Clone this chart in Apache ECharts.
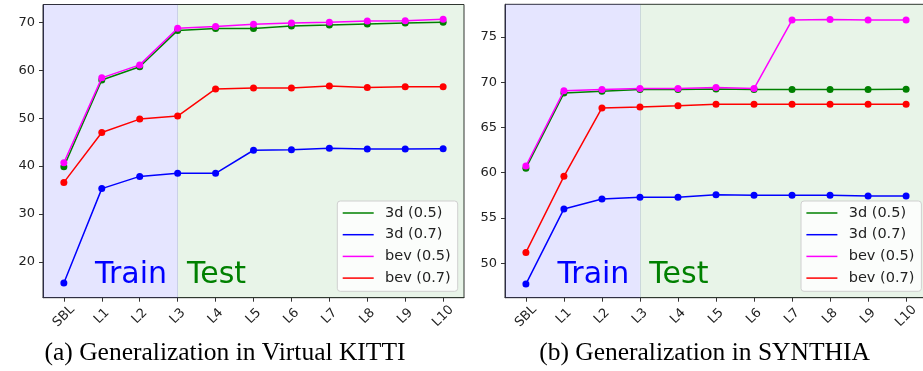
<!DOCTYPE html>
<html>
<head>
<meta charset="utf-8">
<script src="https://cdn.jsdelivr.net/npm/echarts@6/dist/echarts.min.js"></script>
<style>
html,body{margin:0;padding:0;background:#fff;}
#chart{width:923px;height:371px;}
</style>
</head>
<body>
<div id="chart"></div>
<script>
// ---------- data ----------
const categories = ['SBL','L1','L2','L3','L4','L5','L6','L7','L8','L9','L10'];
const seriesNames = ['3d (0.5)','3d (0.7)','bev (0.5)','bev (0.7)'];
const seriesColors = ['#008000','#0000ff','#ff00ff','#ff0000'];

// (a) Virtual KITTI
const kitti3d05  = [39.85, 57.95, 60.7, 68.3, 68.7, 68.7, 69.2, 69.4, 69.65, 69.85, 70.0];
const kitti3d07  = [15.6, 35.3, 37.85, 38.5, 38.5, 43.3, 43.4, 43.7, 43.55, 43.55, 43.6];
const kittiBev05 = [40.7, 58.4, 61.1, 68.75, 69.1, 69.6, 69.85, 70.0, 70.27, 70.3, 70.6];
const kittiBev07 = [36.6, 47.0, 49.8, 50.44, 56.1, 56.3, 56.3, 56.7, 56.4, 56.55, 56.55];
const kittiYTicks = [20, 30, 40, 50, 60, 70];

// (b) SYNTHIA
const synth3d05  = [60.5, 68.8, 69.0, 69.2, 69.2, 69.26, 69.2, 69.18, 69.2, 69.2, 69.22];
const synth3d07  = [47.7, 56.0, 57.1, 57.3, 57.3, 57.57, 57.5, 57.5, 57.5, 57.42, 57.42];
const synthBev05 = [60.74, 69.04, 69.2, 69.3, 69.3, 69.4, 69.3, 76.86, 76.93, 76.86, 76.86];
const synthBev07 = [51.2, 59.6, 67.16, 67.27, 67.4, 67.56, 67.56, 67.56, 67.56, 67.56, 67.56];
const synthYTicks = [50, 55, 60, 65, 70, 75];

const trainLabel = 'Train';
const testLabel = 'Test';
const lastTrainCategory = 'L3';
const captions = ['(a) Generalization in Virtual KITTI', '(b) Generalization in SYNTHIA'];

// ---------- build ----------
const xIdx = categories.map((_, i) => i);
const splitIdx = categories.indexOf(lastTrainCategory);
const X_MIN = -0.55, X_MAX = categories.length - 1 + 0.55;
const FONT = 'DejaVu Sans';
const TXT = '#222';

const panels = [
  { data: [kitti3d05, kitti3d07, kittiBev05, kittiBev07], yMin: 12.55, yMax: 73.7, ticks: kittiYTicks, textY: 17.24,
    grid: { left: 43, top: 4.5, width: 421, height: 293.2 }, legend: { left: 337.3, top: 201 }, capX: 225 },
  { data: [synth3d05, synth3d07, synthBev05, synthBev07], yMin: 46.2, yMax: 78.6, ticks: synthYTicks, textY: 48.7,
    grid: { left: 505, top: 4.3, width: 422, height: 293.4 }, legend: { left: 801, top: 201 }, capX: 704.5 }
];

const grids = [], xAxes = [], yAxes = [], series = [], legends = [], graphics = [];

panels.forEach((p, gi) => {
  grids.push(Object.assign({ show: true, borderColor: '#333', borderWidth: 1, backgroundColor: 'transparent',
    containLabel: false, outerBoundsMode: 'none' }, p.grid));
  xAxes.push({
    type: 'value', gridIndex: gi, min: X_MIN, max: X_MAX,
    axisLine: { show: true, onZero: false, lineStyle: { color: '#333', width: 1 } },
    axisTick: { show: true, customValues: xIdx, length: 4, lineStyle: { color: '#333' } },
    axisLabel: { show: true, customValues: xIdx, rotate: 45, align: 'center', verticalAlign: 'middle', margin: 18.5,
      formatter: v => categories[Math.round(v)], fontFamily: FONT, fontSize: 13, color: TXT },
    splitLine: { show: false }
  });
  yAxes.push({
    type: 'value', gridIndex: gi, min: p.yMin, max: p.yMax,
    axisLine: { show: true, onZero: false, lineStyle: { color: '#333', width: 1 } },
    axisTick: { show: true, customValues: p.ticks, length: 4, lineStyle: { color: '#333' } },
    axisLabel: { show: true, customValues: p.ticks, margin: 8, fontFamily: FONT, fontSize: 13, color: TXT },
    splitLine: { show: false }
  });
  p.data.forEach((vals, si) => {
    const s = {
      name: seriesNames[si], type: 'line', xAxisIndex: gi, yAxisIndex: gi,
      data: vals.map((v, i) => [xIdx[i], v]),
      symbol: 'circle', symbolSize: 7, showSymbol: true,
      lineStyle: { color: seriesColors[si], width: 1.5 },
      itemStyle: { color: seriesColors[si] },
      emphasis: { disabled: true }, silent: true, z: 2 + si * 0.01
    };
    if (si === 0) {
      s.markArea = {
        silent: true, z: 1,
        data: [
          [{ xAxis: X_MIN, itemStyle: { color: 'rgba(0,0,255,0.1)' } }, { xAxis: splitIdx }],
          [{ xAxis: splitIdx, itemStyle: { color: 'rgba(0,128,0,0.09)' } }, { xAxis: X_MAX }]
        ]
      };
      s.markLine = {
        silent: true, symbol: ['none', 'none'], z: 1, animation: false,
        label: { show: false },
        lineStyle: { color: 'rgba(70,90,160,0.18)', type: 'solid', width: 1 },
        data: [{ xAxis: splitIdx }]
      };
      s.markPoint = {
        silent: true, symbol: 'circle', symbolSize: 0, z: 1,
        itemStyle: { color: 'transparent' },
        data: [
          { coord: [splitIdx, p.textY], label: { show: true, formatter: trainLabel, position: 'left', distance: 10.6,
              fontFamily: FONT, fontSize: 30, color: '#0000ff' } },
          { coord: [splitIdx, p.textY], label: { show: true, formatter: testLabel, position: 'right', distance: 9.4,
              fontFamily: FONT, fontSize: 30, color: '#008000' } }
        ]
      };
    }
    series.push(s);
  });
  legends.push({
    data: seriesNames, orient: 'vertical', left: p.legend.left, top: p.legend.top,
    icon: 'rect', itemWidth: 31, itemHeight: 1.5, itemGap: 6.7,
    padding: [4.5, 7, 5.7, 5.4], backgroundColor: 'rgba(255,255,255,0.8)',
    borderColor: '#d0d0d0', borderWidth: 1, borderRadius: 3, selectedMode: false,
    textStyle: { fontFamily: FONT, fontSize: 14.5, color: TXT, padding: [0, 0, 0, 6.3] }
  });
  graphics.push({
    type: 'text', x: p.capX, y: 353, silent: true,
    style: { text: captions[gi], font: '25.5px "Liberation Serif"', fill: '#000', align: 'center', verticalAlign: 'middle' }
  });
});

const chart = echarts.init(document.getElementById('chart'), null, { renderer: 'canvas' });
chart.setOption({
  animation: false,
  backgroundColor: '#ffffff',
  grid: grids, xAxis: xAxes, yAxis: yAxes, series: series, legend: legends,
  graphic: graphics,
  tooltip: { show: false }
});
</script>
</body>
</html>
